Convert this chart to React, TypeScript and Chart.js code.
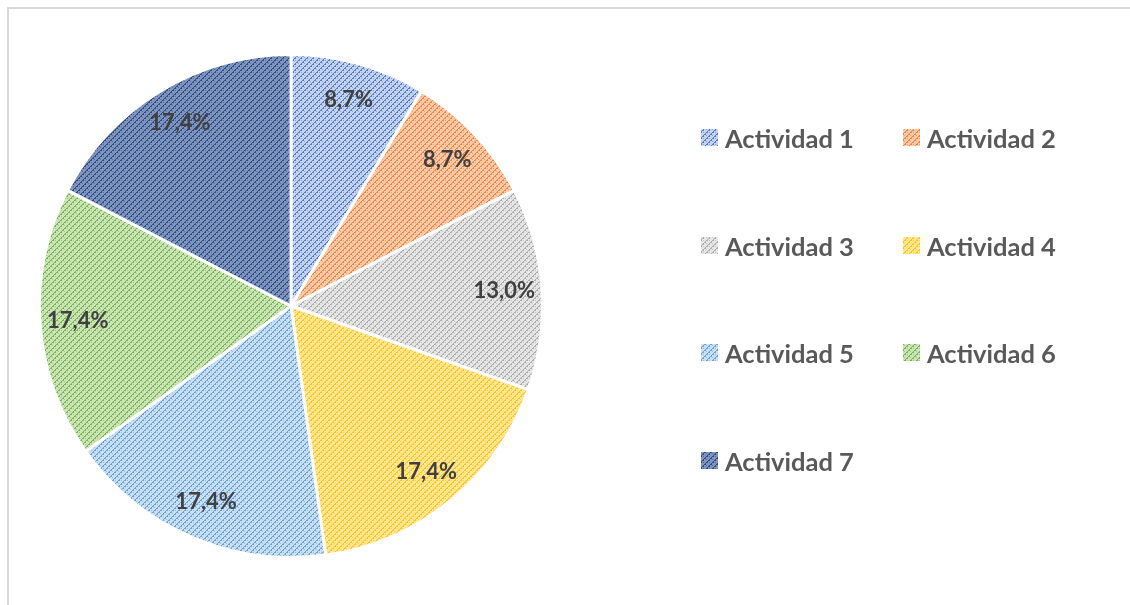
import React, { useEffect, useRef } from "react";
import { Chart, registerables } from "chart.js";

Chart.register(...registerables);

const categories = ["Actividad 1", "Actividad 2", "Actividad 3", "Actividad 4", "Actividad 5", "Actividad 6", "Actividad 7"];
const values = [8.7, 8.7, 13.0, 17.4, 17.4, 17.4, 17.4];
const labelTexts = ["8,7%", "8,7%", "13,0%", "17,4%", "17,4%", "17,4%", "17,4%"];
const fgColors = ["#4472C4", "#ED7D31", "#A5A5A5", "#FFC000", "#5B9BD5", "#70AD47", "#264478"];
const bgColors = ["#C5D3EE", "#F8CBAD", "#E6E6E6", "#FFE699", "#CADFF2", "#CBE5B8", "#7F95BF"];

function makePattern(fg: string, bg: string): CanvasPattern | string {
  const c = document.createElement("canvas");
  c.width = 6;
  c.height = 6;
  const x = c.getContext("2d");
  if (!x) return fg;
  x.fillStyle = bg;
  x.fillRect(0, 0, 6, 6);
  x.fillStyle = fg;
  x.globalAlpha = 0.9;
  x.fillRect(4, 0, 2, 1);
  x.fillRect(3, 1, 1, 1);
  x.fillRect(2, 2, 2, 1);
  x.fillRect(1, 3, 1, 1);
  x.fillRect(0, 4, 2, 1);
  x.fillRect(5, 5, 1, 1);
  x.globalAlpha = 0.45;
  x.fillRect(1, 0, 1, 1);
  x.fillRect(4, 3, 1, 1);
  const p = x.createPattern(c, "repeat");
  return p || fg;
}

export default function App() {
  const ref = useRef<HTMLCanvasElement | null>(null);

  useEffect(() => {
    if (!ref.current) return;
    const patterns = fgColors.map((f, i) => makePattern(f, bgColors[i]));

    const labelPlugin = {
      id: "sliceLabels",
      afterDatasetsDraw(chart: any) {
        const ctx = chart.ctx;
        const meta = chart.getDatasetMeta(0);
        ctx.save();
        ctx.font = "bold 22px Lato, 'Open Sans', sans-serif";
        ctx.fillStyle = "#404040";
        ctx.textAlign = "center";
        ctx.textBaseline = "middle";
        meta.data.forEach((arc: any, i: number) => {
          const { x, y, startAngle, endAngle, outerRadius } = arc.getProps(["x", "y", "startAngle", "endAngle", "outerRadius"], true);
          const mid = (startAngle + endAngle) / 2;
          const r = outerRadius * 0.85;
          ctx.fillText(labelTexts[i], x + Math.cos(mid) * r, y + Math.sin(mid) * r);
        });
        ctx.restore();
      },
    };

    const legendPlugin = {
      id: "customLegend",
      afterDraw(chart: any) {
        const ctx = chart.ctx;
        ctx.save();
        ctx.font = "bold 25.5px Lato, 'Open Sans', sans-serif";
        ctx.fillStyle = "#595959";
        ctx.textAlign = "left";
        ctx.textBaseline = "alphabetic";
        const colX = [701, 903];
        const rowY = [129, 237, 344, 452];
        categories.forEach((c, i) => {
          const col = i % 2;
          const row = Math.floor(i / 2);
          const mx = colX[col];
          const my = rowY[row];
          ctx.fillStyle = patterns[i] as any;
          ctx.fillRect(mx, my, 17, 17);
          ctx.fillStyle = "#595959";
          ctx.fillText(c, mx + 24, my + 19);
        });
        ctx.restore();
      },
    };

    const chart = new Chart(ref.current, {
      type: "pie",
      data: {
        labels: categories,
        datasets: [
          {
            data: values,
            backgroundColor: patterns as any,
            borderColor: "#ffffff",
            borderWidth: 3,
            hoverOffset: 0,
          },
        ],
      },
      options: {
        animation: false,
        responsive: false,
        maintainAspectRatio: false,
        layout: { padding: { left: 38, right: 586, top: 53, bottom: 46 } },
        plugins: {
          legend: { display: false },
          tooltip: { enabled: false },
        },
      },
      plugins: [labelPlugin, legendPlugin],
    });
    return () => chart.destroy();
  }, []);

  return (
    <div style={{ position: "fixed", left: 0, top: 0, width: 1130, height: 605, background: "#ffffff", overflow: "hidden" }}>
      <div
        style={{
          position: "absolute",
          left: 7,
          top: 7,
          width: 1200,
          height: 700,
          borderTop: "2px solid #d9d9d9",
          borderLeft: "2px solid #d9d9d9",
        }}
      />
      <canvas ref={ref} width={1130} height={605} style={{ position: "absolute", left: 0, top: 0, width: 1130, height: 605 }} />
    </div>
  );
}
